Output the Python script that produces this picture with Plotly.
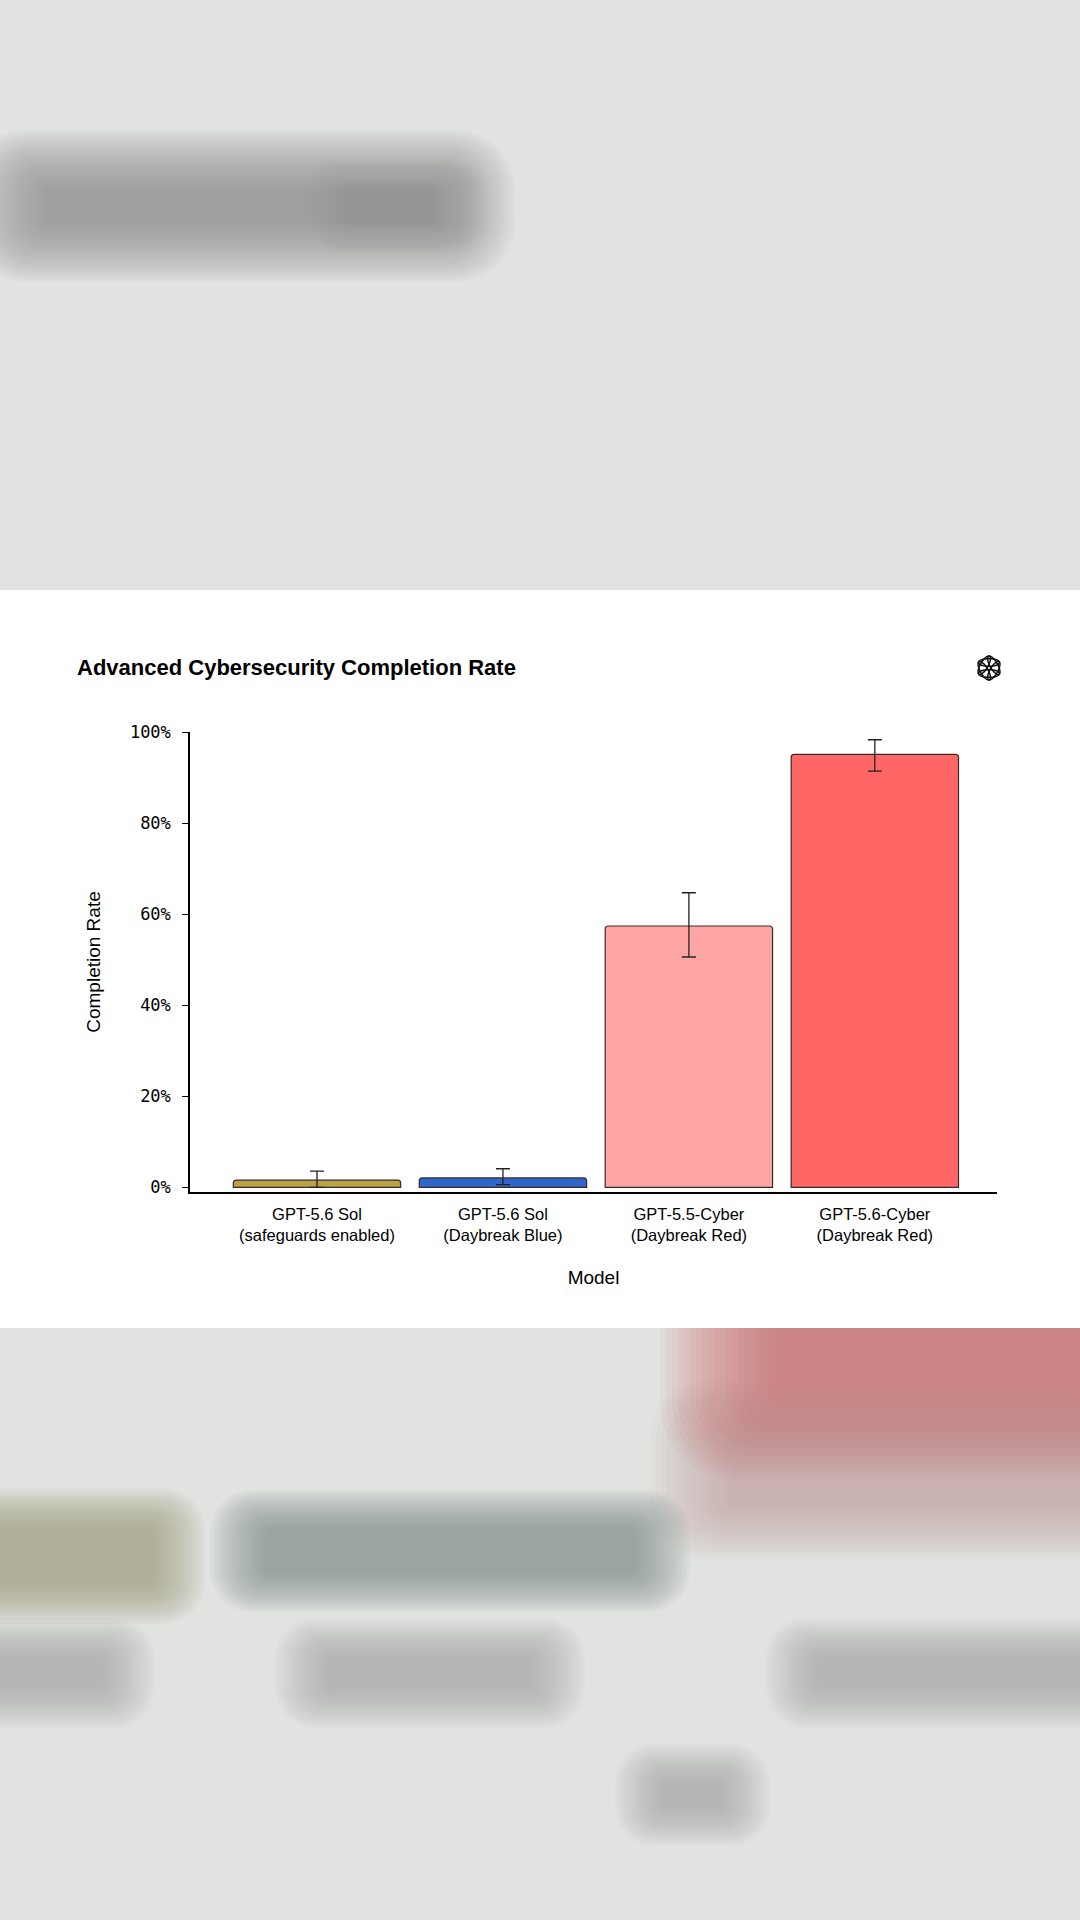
import math
import plotly.graph_objects as go

# ---- data ----
models = ["GPT-5.6 Sol<br>(safeguards enabled)", "GPT-5.6 Sol<br>(Daybreak Blue)",
          "GPT-5.5-Cyber<br>(Daybreak Red)", "GPT-5.6-Cyber<br>(Daybreak Red)"]
completion = [1.6, 2.1, 57.4, 95.1]
err_plus = [2.0, 2.0, 7.3, 3.2]
err_minus = [1.6, 1.5, 6.8, 3.7]
bar_colors = ["#BBA143", "#2F66CC", "#FFA5A5", "#FF6666"]
y_ticks = [0, 20, 40, 60, 80, 100]
y_tick_labels = ["0%", "20%", "40%", "60%", "80%", "100%"]

# ---- layout geometry (pixels) ----
W, H = 1080, 1920
L, R, T, B = 190, 997, 732, 1192


def px(x):
    return (x - L) / (R - L)


def py(y):
    return (B - y) / (B - T)


fig = go.Figure()
fig.add_trace(go.Bar(
    x=models, y=completion,
    marker=dict(color=bar_colors, line=dict(color="#3a2a2a", width=1.2), cornerradius=3),
    error_y=dict(type="data", array=err_plus, arrayminus=err_minus, symmetric=False,
                 color="#222222", thickness=1.3, width=7),
    hoverinfo="skip",
))

shapes = []


def rrect_path(x0, y0, x1, y1, r):
    r = max(0.5, min(r, (x1 - x0) / 2, (y1 - y0) / 2))
    pts = []
    corners = [(x1 - r, y0 + r, -90), (x1 - r, y1 - r, 0), (x0 + r, y1 - r, 90), (x0 + r, y0 + r, 180)]
    for cx, cy, a0 in corners:
        for j in range(7):
            a = math.radians(a0 + 15 * j)
            pts.append((px(cx + r * math.cos(a)), py(cy + r * math.sin(a))))
    return "M " + " L ".join(f"{a:.5f},{b:.5f}" for a, b in pts) + " Z"


def blob(x0, y0, x1, y1, color, sx=50, sy=40, n=14, op=0.08):
    # soft, blurred-looking block made of stacked translucent rounded rects
    for i in range(n):
        f = 1 - i / n
        dx, dy = sx * f, sy * f
        shapes.append(dict(type="path", xref="paper", yref="paper", layer="below",
                           path=rrect_path(x0 - dx, y0 - dy, x1 + dx, y1 + dy, 0.9 * min(dx, dy) + 4),
                           fillcolor=color, opacity=op, line=dict(width=0)))


# top blurred page
blob(50, 192, 430, 220, "#8d8f8c", sx=85, sy=62, n=22, op=0.05)
blob(350, 190, 450, 222, "#8d8f8c", sx=40, sy=30, n=10, op=0.025)
# bottom blurred page
blob(780, 1250, 1160, 1400, "#cf6d69", sx=120, sy=80, n=20, op=0.06)
blob(740, 1440, 1160, 1500, "#b08c8a", sx=90, sy=60, n=16, op=0.045)
blob(-80, 1530, 150, 1582, "#9c9b7e", sx=55, sy=42, n=16, op=0.06)
blob(270, 1532, 630, 1570, "#7c8894", sx=60, sy=42, n=16, op=0.07)
blob(-80, 1658, 100, 1688, "#a0a19e", sx=55, sy=40, n=16, op=0.05)
blob(330, 1658, 530, 1688, "#a0a19e", sx=55, sy=40, n=16, op=0.05)
blob(820, 1658, 1160, 1688, "#a0a19e", sx=55, sy=40, n=16, op=0.05)
blob(665, 1782, 720, 1808, "#a0a19e", sx=50, sy=38, n=16, op=0.05)
# white panel (drawn after blobs so it covers their spread)
shapes.append(dict(type="rect", xref="paper", yref="paper", layer="below",
                   x0=px(-5), x1=px(W + 5), y0=py(1328), y1=py(590),
                   fillcolor="white", line=dict(width=0)))

# logo (approximate rosette)
cx, cy = 989, 668
for k in range(6):
    th = math.radians(k * 60)
    ox, oy = cx + 5.5 * math.cos(th + math.pi / 2), cy + 5.5 * math.sin(th + math.pi / 2)
    pts = []
    for j in range(33):
        t = 2 * math.pi * j / 32
        ex, ey = 10.5 * math.cos(t), 3.8 * math.sin(t)
        X = ox + ex * math.cos(th) - ey * math.sin(th)
        Y = oy + ex * math.sin(th) + ey * math.cos(th)
        pts.append((px(X), py(Y)))
    path = "M " + " L ".join(f"{a:.5f},{b:.5f}" for a, b in pts) + " Z"
    shapes.append(dict(type="path", xref="paper", yref="paper", path=path,
                       line=dict(color="#111111", width=1.5), fillcolor="rgba(0,0,0,0)"))

annotations = [
    dict(text="<b>Advanced Cybersecurity Completion Rate</b>", xref="paper", yref="paper",
         x=px(75), y=py(667), xanchor="left", yanchor="middle", showarrow=False,
         font=dict(family="Liberation Sans, Arial, sans-serif", size=22, color="#000000")),
]

fig.update_layout(
    width=W, height=H,
    margin=dict(l=L, r=W - R, t=T, b=H - B, pad=0),
    paper_bgcolor="#E1E3E0", plot_bgcolor="rgba(0,0,0,0)",
    showlegend=False, bargap=0.1,
    shapes=shapes, annotations=annotations,
    font=dict(family="Liberation Sans, Arial, sans-serif", color="#000000"),
    xaxis=dict(
        range=[-0.683, 3.657], showgrid=False, zeroline=False,
        showline=True, linecolor="#000000", linewidth=2, ticks="",
        ticklabelstandoff=6,
        tickfont=dict(family="Liberation Sans, Arial, sans-serif", size=16.5, color="#000000"),
        title=dict(text="Model", font=dict(size=19, color="#000000"), standoff=27),
        fixedrange=True,
    ),
    yaxis=dict(
        range=[-1.0, 100], showgrid=False, zeroline=False,
        showline=True, linecolor="#000000", linewidth=1.5,
        ticks="outside", ticklen=6, tickwidth=1.3, tickcolor="#000000",
        ticklabelstandoff=8,
        tickvals=y_ticks, ticktext=y_tick_labels,
        tickfont=dict(family="DejaVu Sans Mono, monospace", size=17, color="#000000"),
        title=dict(text="Completion Rate", font=dict(size=19, color="#000000"), standoff=24),
        fixedrange=True,
    ),
)

fig.write_html("out.html", config={"displayModeBar": False},
               post_script="document.body.style.margin='0';")
